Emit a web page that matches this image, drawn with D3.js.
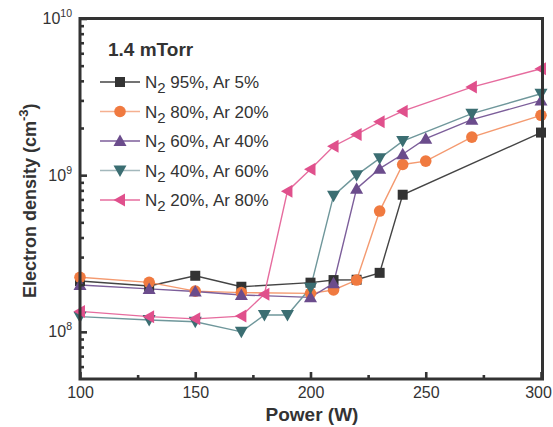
<!DOCTYPE html>
<html>
<head>
<meta charset="utf-8">
<script src="https://cdn.jsdelivr.net/npm/d3@7"></script>
<style>
  body { margin: 0; background: #fff; }
  text { font-family: "Liberation Sans", Arial, sans-serif; fill: #333; }
</style>
</head>
<body>
<svg id="chart" width="553" height="427"></svg>
<script>
// ---- data ----
const power = [100, 130, 150, 170, 180, 190, 200, 210, 220, 230, 240, 250, 270, 300];
const n2_95 = [[100,2.11e8],[130,1.96e8],[150,2.28e8],[170,1.94e8],[200,2.06e8],[210,2.14e8],[220,2.15e8],[230,2.38e8],[240,7.5e8],[300,1.87e9]];
const n2_80 = [[100,2.23e8],[130,2.07e8],[150,1.82e8],[170,1.78e8],[200,1.76e8],[210,1.85e8],[220,2.14e8],[230,5.9e8],[240,1.17e9],[250,1.23e9],[270,1.75e9],[300,2.41e9]];
const n2_60 = [[100,1.99e8],[130,1.88e8],[150,1.81e8],[170,1.72e8],[200,1.66e8],[210,2.04e8],[220,8.2e8],[230,1.1e9],[240,1.36e9],[250,1.71e9],[270,2.26e9],[300,3.0e9]];
const n2_40 = [[100,1.25e8],[130,1.19e8],[150,1.16e8],[170,1.0e8],[180,1.28e8],[190,1.28e8],[200,1.91e8],[210,7.4e8],[220,1.0e9],[230,1.28e9],[240,1.65e9],[270,2.47e9],[300,3.31e9]];
const n2_20 = [[100,1.35e8],[130,1.25e8],[150,1.21e8],[170,1.26e8],[180,1.74e8],[190,7.9e8],[200,1.09e9],[210,1.53e9],[220,1.82e9],[230,2.19e9],[240,2.56e9],[270,3.65e9],[300,4.78e9]];
const seriesNames = ["95%, Ar 5%", "80%, Ar 20%", "60%, Ar 40%", "40%, Ar 60%", "20%, Ar 80%"];
const xMajorTicks = [100, 150, 200, 250, 300];
const xMinorTicks = [125, 175, 225, 275];
const yMajorTicks = [1e8, 1e9, 1e10];
const yMinorTicks = [6e7,7e7,8e7,9e7,2e8,3e8,4e8,5e8,6e8,7e8,8e8,9e8,2e9,3e9,4e9,5e9,6e9,7e9,8e9,9e9];
const title = "1.4 mTorr";

// ---- styles ----
const styles = [
  {data: n2_95, marker: "square",   fill: "#333333", line: "#444444"},
  {data: n2_80, marker: "circle",   fill: "#f07a40", line: "#f49a70"},
  {data: n2_60, marker: "tri-up",   fill: "#6b4c8c", line: "#7c5e9a"},
  {data: n2_40, marker: "tri-down", fill: "#3b6e72", line: "#6f979b"},
  {data: n2_20, marker: "tri-left", fill: "#e0508c", line: "#e66c9e"}
];
const legendLine = ["#444444", "#f5b090", "#7c5e9a", "#a3b8bc", "#e66c9e"];

const svg = d3.select("#chart");
const L = 80, R = 541, T = 18.5, B = 379;
const x = d3.scaleLinear().domain([100, 300]).range([L, R]);
const y = d3.scaleLog().domain([5e7, 1e10]).range([B, T]);

function markerPath(type) {
  switch (type) {
    case "square": return `M${-5},${-5}h10v10h-10z`;
    case "tri-up": return `M0,${-6.5}L${6.5},${5}L${-6.5},${5}Z`;
    case "tri-down": return `M0,${6.5}L${6.5},${-5}L${-6.5},${-5}Z`;
    case "tri-left": return `M${-6.5},0L${5},${-6.5}L${5},${6.5}Z`;
  }
  return null;
}
function drawMarker(g, type, cx, cy, fill) {
  if (type === "circle") {
    g.append("circle").attr("cx", cx).attr("cy", cy).attr("r", 5.8)
      .attr("fill", fill);
  } else {
    g.append("path").attr("d", markerPath(type))
      .attr("transform", `translate(${cx},${cy})`).attr("fill", fill);
  }
}

// ---- series ----
const line = d3.line().x(d => x(d[0])).y(d => y(d[1]));
const plot = svg.append("g");
styles.forEach(s => {
  plot.append("path").datum(s.data).attr("d", line)
    .attr("fill", "none").attr("stroke", s.line).attr("stroke-width", 1.4);
});
styles.forEach(s => {
  s.data.forEach(d => drawMarker(plot, s.marker, x(d[0]), y(d[1]), s.fill));
});

// ---- axes ----
const axColor = "#333";
const gx = svg.append("g").attr("transform", `translate(0,${B})`)
  .call(d3.axisBottom(x).tickValues(xMajorTicks).tickSize(-7).tickPadding(8).tickFormat(d3.format("d")));
const gxm = svg.append("g").attr("transform", `translate(0,${B})`)
  .call(d3.axisBottom(x).tickValues(xMinorTicks).tickSize(-4).tickFormat(""));
const gy = svg.append("g").attr("transform", `translate(${L},0)`)
  .call(d3.axisLeft(y).tickValues(yMajorTicks).tickSize(-7).tickPadding(14).tickFormat(""));
const gym = svg.append("g").attr("transform", `translate(${L},0)`)
  .call(d3.axisLeft(y).tickValues(yMinorTicks).tickSize(-4).tickFormat(""));
[gx, gxm, gy, gym].forEach(g => {
  g.select(".domain").remove();
  g.selectAll(".tick line").attr("stroke", axColor).attr("stroke-width", 2.6);
});
gx.selectAll(".tick text").attr("font-size", 16).attr("fill", "#333")
  .style("font-family", "Liberation Sans, Arial, sans-serif")
  .attr("dx", d => d === 300 ? -3 : 0);

// y labels with superscripts
gy.selectAll(".tick").each(function(d) {
  const t = d3.select(this).append("text").attr("x", -8).attr("y", 5)
    .attr("text-anchor", "end").attr("font-size", 16).attr("fill", "#333");
  t.append("tspan").text("10");
  t.append("tspan").attr("dy", -7).attr("font-size", 10.5).text(Math.round(Math.log10(d)));
});

// frame
svg.append("rect").attr("x", L).attr("y", T).attr("width", R + 1.5 - L).attr("height", B - T)
  .attr("fill", "none").attr("stroke", axColor).attr("stroke-width", 3);

// axis titles
svg.append("text").attr("x", 312).attr("y", 421).attr("text-anchor", "middle")
  .attr("font-size", 19).attr("font-weight", "bold").text("Power (W)");
const yt = svg.append("text").attr("transform", `translate(36,${(T + B) / 2 + 2}) rotate(-90)`)
  .attr("text-anchor", "middle").attr("font-size", 18).attr("font-weight", "bold");
yt.append("tspan").text("Electron density (cm");
yt.append("tspan").attr("dy", -8).attr("font-size", 13).text("-3");
yt.append("tspan").attr("dy", 8).text(")");

// ---- legend ----
svg.append("text").attr("x", 108).attr("y", 56).attr("font-size", 19)
  .attr("font-weight", "bold").text(title);
const lg = svg.append("g");
styles.forEach((s, i) => {
  const cy = 82 + i * 29.5;
  lg.append("line").attr("x1", 100).attr("x2", 140).attr("y1", cy).attr("y2", cy)
    .attr("stroke", legendLine[i]).attr("stroke-width", 1.4);
  drawMarker(lg, s.marker, 120, cy, s.fill);
  const t = lg.append("text").attr("x", 145).attr("y", cy + 6).attr("font-size", 17);
  t.append("tspan").text("N");
  t.append("tspan").attr("dy", 5).attr("font-size", 15).text("2");
  t.append("tspan").attr("dy", -5).text(" " + seriesNames[i]);
});
</script>
</body>
</html>
